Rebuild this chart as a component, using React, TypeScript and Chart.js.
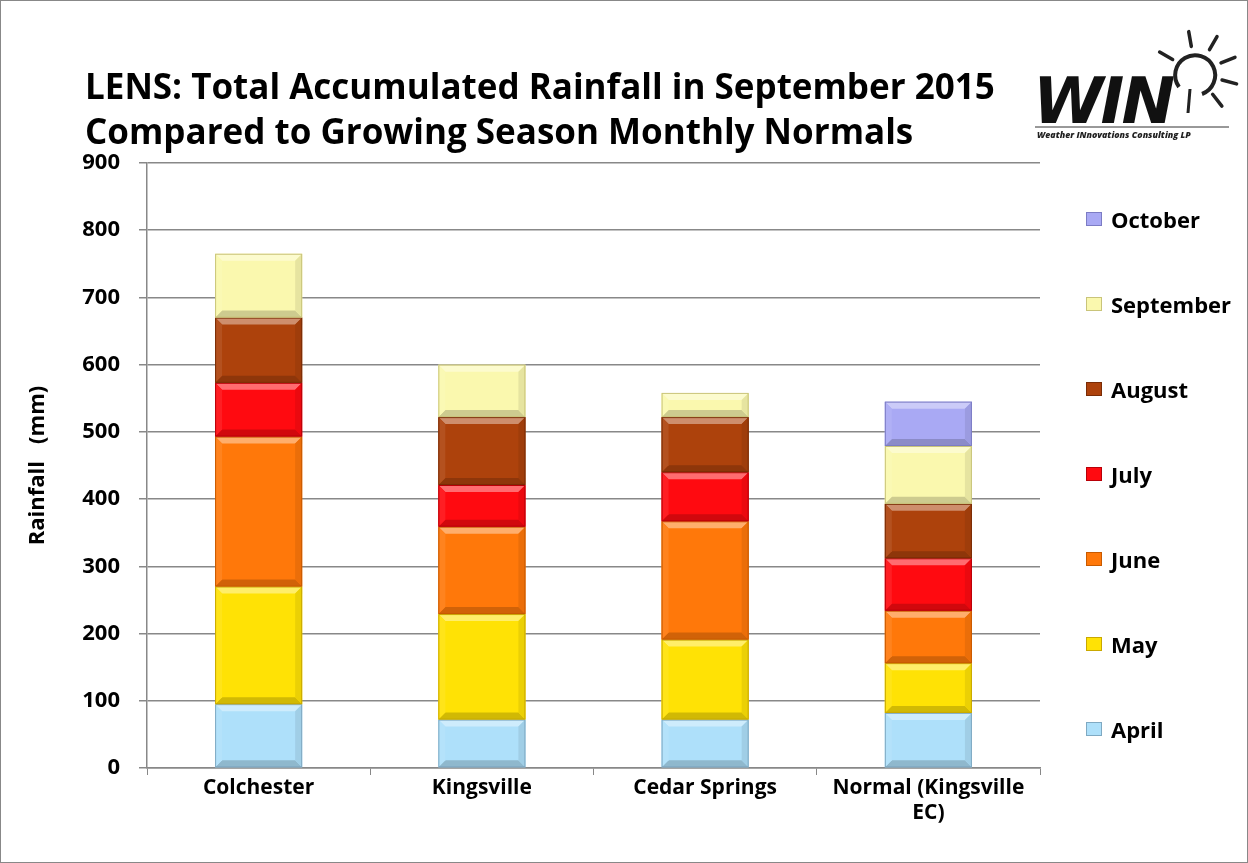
import React, { useEffect, useRef } from "react";
import { Chart, registerables } from "chart.js";

Chart.register(...registerables);

const categories: (string | string[])[] = ["Colchester", "Kingsville", "Cedar Springs", ["Normal (Kingsville", "EC)"]];
const months = ["April", "May", "June", "July", "August", "September", "October"];
const april = [95, 72, 72, 82];
const may = [175, 157, 119, 74];
const june = [223, 130, 176, 78];
const july = [80, 62, 73, 78];
const august = [97, 101, 82, 81];
const september = [95, 78, 36, 86];
const october = [0, 0, 0, 66];
const yTicks = [0, 100, 200, 300, 400, 500, 600, 700, 800, 900];

const colors = ["#AEE0FA", "#FFE205", "#FF780A", "#FF0A10", "#AD420C", "#FAF8AE", "#A9A9F4"];
const borders = ["#7FA9C2", "#C9A800", "#C85A00", "#B80008", "#7A2C06", "#C9C47A", "#7C7CC4"];

const FONT = "'Open Sans', sans-serif";

function shade(hex: string, amt: number) {
  const n = parseInt(hex.slice(1), 16);
  const r = (n >> 16) & 255, g = (n >> 8) & 255, b = n & 255;
  const f = (c: number) => Math.max(0, Math.min(255, Math.round(amt > 0 ? c + (255 - c) * amt : c * (1 + amt))));
  return `rgb(${f(r)},${f(g)},${f(b)})`;
}

const bevelPlugin = {
  id: "bevel",
  afterDatasetsDraw(chart: any) {
    const ctx = chart.ctx;
    chart.data.datasets.forEach((ds: any, di: number) => {
      const meta = chart.getDatasetMeta(di);
      meta.data.forEach((bar: any, i: number) => {
        if (!ds.data[i]) return;
        const { x, y, base, width } = bar.getProps(["x", "y", "base", "width"], true);
        const l = x - width / 2, r = x + width / 2, t = Math.min(y, base), b = Math.max(y, base);
        const h = b - t;
        const d = Math.min(7, h / 3);
        const c = colors[di];
        ctx.save();
        ctx.fillStyle = shade(c, 0.4);
        ctx.beginPath(); ctx.moveTo(l, t); ctx.lineTo(r, t); ctx.lineTo(r - d, t + d); ctx.lineTo(l + d, t + d); ctx.closePath(); ctx.fill();
        ctx.fillStyle = shade(c, -0.18);
        ctx.beginPath(); ctx.moveTo(l, b); ctx.lineTo(r, b); ctx.lineTo(r - d, b - d); ctx.lineTo(l + d, b - d); ctx.closePath(); ctx.fill();
        ctx.fillStyle = shade(c, -0.08);
        ctx.beginPath(); ctx.moveTo(r, t); ctx.lineTo(r, b); ctx.lineTo(r - d, b - d); ctx.lineTo(r - d, t + d); ctx.closePath(); ctx.fill();
        ctx.fillStyle = shade(c, 0.08);
        ctx.beginPath(); ctx.moveTo(l, t); ctx.lineTo(l, b); ctx.lineTo(l + d, b - d); ctx.lineTo(l + d, t + d); ctx.closePath(); ctx.fill();
        ctx.strokeStyle = borders[di];
        ctx.lineWidth = 1;
        ctx.strokeRect(l + 0.5, t + 0.5, width - 1, h - 1);
        ctx.restore();
      });
    });
  },
};

function Logo() {
  const rays = [-100, -60, -22, 15, 52, -150];
  return (
    <svg width="210" height="125" style={{ position: "absolute", left: 1028, top: 14 }}>
      <g transform="translate(167,58)">
        <path d="M -17 14 A 20 20 0 1 1 6 21" fill="none" stroke="#222" strokeWidth="4" />
        {rays.map((a, k) => {
          const rad = (a * Math.PI) / 180;
          const x1 = Math.cos(rad) * 27, y1 = Math.sin(rad) * 27;
          const x2 = Math.cos(rad) * 42, y2 = Math.sin(rad) * 42;
          return <line key={k} x1={x1} y1={y1} x2={x2} y2={y2} stroke="#222" strokeWidth="3.5" strokeLinecap="round" />;
        })}
        <line x1="-6" y1="16" x2="-8" y2="40" stroke="#222" strokeWidth="3" />
      </g>
      <text x="4" y="108" fontFamily="'DejaVu Sans', sans-serif" fontWeight="900" fontStyle="italic" fontSize="64" fill="#111" letterSpacing="-3">WIN</text>
      <line x1="6" y1="112" x2="200" y2="112" stroke="#333" strokeWidth="1" />
      <text x="8" y="123" fontFamily="'Open Sans', sans-serif" fontWeight="800" fontStyle="italic" fontSize="8.8" fill="#222">Weather INnovations Consulting LP</text>
    </svg>
  );
}

export default function App() {
  const ref = useRef<HTMLCanvasElement>(null);
  useEffect(() => {
    const series = [april, may, june, july, august, september, october];
    const chart = new Chart(ref.current!, {
      type: "bar",
      data: {
        labels: categories,
        datasets: months.map((m, i) => ({
          label: m,
          data: series[i],
          backgroundColor: colors[i],
          borderWidth: 0,
          categoryPercentage: 1,
          barPercentage: 0.39,
        })),
      },
      plugins: [bevelPlugin],
      options: {
        responsive: false,
        animation: false,
        layout: { padding: { top: 163, left: 20, right: 208, bottom: 35 } },
        plugins: { legend: { display: false }, tooltip: { enabled: false } },
        scales: {
          x: {
            stacked: true,
            afterFit: (s: any) => { s.height = 60; },
            grid: { drawOnChartArea: false, drawTicks: true, tickLength: 7, color: "#888", offset: true },
            border: { color: "#888", width: 1.5 },
            ticks: { color: "#000", font: { family: FONT, size: 21, weight: "bold", lineHeight: 1.2 }, padding: 0 },
          },
          y: {
            stacked: true,
            min: 0,
            max: 900,
            afterFit: (s: any) => { s.width = 127; },
            afterBuildTicks: (s: any) => { s.ticks = yTicks.map((v) => ({ value: v })); },
            grid: { color: "#888", lineWidth: 1.5, tickLength: 8 },
            border: { color: "#888", width: 1.5 },
            ticks: { color: "#000", font: { family: FONT, size: 22, weight: "bold" }, padding: 19 },
            title: { display: true, text: "Rainfall   (mm)", color: "#000", font: { family: FONT, size: 22, weight: "bold" }, padding: { top: 5, bottom: 0 } },
          },
        },
      },
    });
    return () => chart.destroy();
  }, []);

  const legendItems = months.map((m, i) => ({ m, c: colors[i], b: borders[i] })).reverse();

  return (
    <div style={{ position: "fixed", left: 0, top: 0, width: 1248, height: 863, background: "#fff", boxSizing: "border-box", border: "1px solid #888", overflow: "hidden" }}>
      <canvas ref={ref} width={1248} height={863} style={{ position: "absolute", left: -1, top: -1 }} />
      <div style={{ position: "absolute", left: 84, top: 62, fontFamily: FONT, fontWeight: 700, fontSize: 35, lineHeight: "45px", color: "#000", whiteSpace: "nowrap" }}>
        <div>LENS: Total Accumulated Rainfall in September 2015</div>
        <div>Compared to Growing Season Monthly Normals</div>
      </div>
      <Logo />
      {legendItems.map((it, k) => (
        <div key={it.m} style={{ position: "absolute", left: 1085, top: 203 + k * 85, display: "flex", alignItems: "center", fontFamily: FONT, fontWeight: 700, fontSize: 22, lineHeight: "30px", color: "#000" }}>
          <span style={{ display: "inline-block", width: 16, height: 14, background: it.c, border: `1px solid ${it.b}`, boxSizing: "border-box", marginRight: 9 }} />
          <span>{it.m}</span>
        </div>
      ))}
    </div>
  );
}
